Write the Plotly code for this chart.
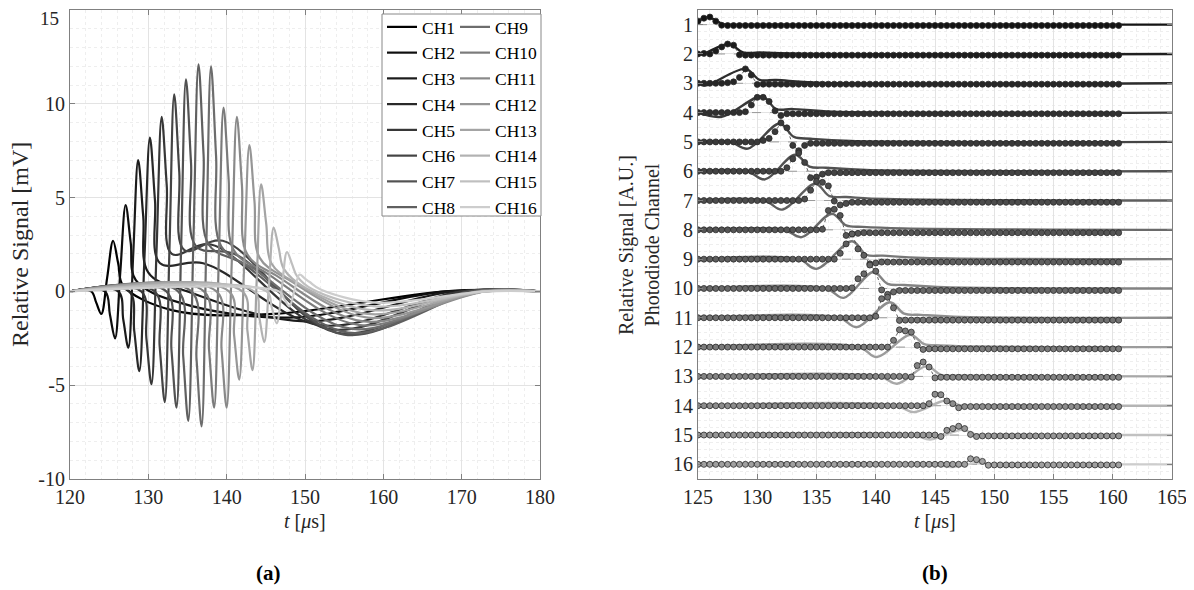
import plotly.graph_objects as go

# ---------------- data ----------------
CHANNELS = list(range(1, 17))
CH_NAMES = ["CH%d" % k for k in CHANNELS]

# Panel (a): key points of each channel's waveform [us, mV]
A_TROUGH_T = [124.0, 125.75, 127.45, 128.85, 130.4, 132.1, 133.6, 135.1, 136.8, 138.4, 140.0, 141.6, 143.3, 144.8, 146.4, 148.0]
A_TROUGH_V = [-1.2, -2.5, -3.0, -4.25, -4.95, -5.9, -6.2, -6.9, -7.2, -6.2, -6.2, -4.7, -4.2, -2.7, -1.7, -0.8]
A_PRE_V = [-0.6, -1.25, -1.5, -2.1, -2.5, -2.95, -3.1, -3.45, -3.6, -3.1, -3.1, -2.35, -2.1, -1.35, -0.85, -0.4]
A_MID_V = [0.75, 1.05, 2.0, 2.0, 2.2, 2.3, 2.55, 2.6, 2.4, 1.8, 1.55, 1.55, 0.75, 0.35, 0.2, 0.05]
A_PEAK_T = [125.5, 127.1, 128.7, 130.2, 131.7, 133.3, 134.8, 136.4, 138.0, 139.6, 141.3, 142.9, 144.4, 146.0, 147.7, 149.3]
A_PEAK_V = [2.7, 4.6, 7.0, 8.2, 9.3, 10.5, 11.3, 12.1, 12.0, 9.8, 9.3, 7.8, 5.7, 3.4, 2.1, 0.9]
A_DROP_V = [1.5, 2.6, 4.0, 4.85, 5.65, 6.35, 6.85, 7.3, 7.2, 6.0, 5.65, 4.8, 3.6, 2.3, 1.45, 0.7]
A_FALL_V = [0.3, 0.6, 1.0, 1.5, 2.0, 2.2, 2.4, 2.5, 2.4, 2.2, 2.0, 1.8, 1.5, 1.2, 0.8, 0.5]
A_SHOULDER_T = [133.0, 134.0, 135.0, 137.0, 138.0, 139.5, 141.0, 142.0, 143.5, 145.0, 146.5, 148.0, 149.0, 150.0, 151.0, 152.0]
A_SHOULDER_V = [-1.0, -0.6, 0.0, 1.5, 2.5, 2.7, 2.0, 1.5, 1.2, 1.0, 0.8, 0.6, 0.4, 0.2, 0.1, 0.1]
A_DIP_T = [146.0, 148.0, 150.0, 152.0, 153.0, 154.0, 155.0, 155.5, 156.0, 157.0, 157.5, 158.0, 158.0, 158.5, 159.0, 159.0]
A_DIP_V = [-1.2, -1.4, -1.6, -1.8, -2.0, -2.2, -2.3, -2.2, -2.0, -1.8, -1.6, -1.4, -1.2, -1.0, -0.8, -0.6]
A_END_T = [168, 168, 169, 170, 170, 171, 171, 172, 172, 172, 173, 173, 173, 173, 173, 173]

# Panel (b): relative signal per channel [A.U.] (upward positive)
B_DIP_T = [125.0, 125.3, 125.6, 127.0, 129.2, 130.65, 132.1, 133.75, 135.0, 137.3, 138.4, 140.1, 141.8, 143.2, 144.6, 146.3]
B_DIP_V = [0.12, -0.02, -0.08, -0.14, -0.23, -0.28, -0.31, -0.25, -0.33, -0.32, -0.32, -0.34, -0.25, -0.22, -0.15, -0.09]
B_PEAK_T = [125.9, 127.6, 129.0, 130.4, 131.9, 133.2, 134.9, 136.3, 138.0, 139.8, 141.2, 142.9, 144.3, 145.9, 147.3, 148.7]
B_PEAK_V = [0.25, 0.34, 0.49, 0.55, 0.63, 0.56, 0.57, 0.55, 0.61, 0.56, 0.53, 0.42, 0.35, 0.18, 0.18, 0.06]
B_FALL_V = [0.02, 0.05, 0.12, 0.12, 0.17, 0.16, 0.15, 0.15, 0.15, 0.16, 0.14, 0.10, 0.05, 0.02, 0.02, 0.0]
B_SHOULDER_V = [0.0, 0.05, 0.11, 0.12, 0.11, 0.12, 0.12, 0.10, 0.12, 0.12, 0.10, 0.06, 0.03, 0.02, 0.01, 0.0]
B_TAIL_V = [0.0, 0.01, 0.02, 0.03, 0.03, 0.04, 0.05, 0.05, 0.04, 0.04, 0.03, 0.02, 0.01, 0.0, 0.0, 0.0]

# Sampled points (dots): sample grid and the non-zero part of every channel
DOT_T = [125.0 + 0.5 * i for i in range(72)]
DOT_BUMP_START = [0, 0, 5, 8, 11, 15, 18, 21, 23, 26, 30, 32, 36, 39, 41, 45]
DOT_BUMP_V = [
    [0.12, 0.22, 0.26, 0.12, -0.02],
    [0.0, 0.02, 0.0, 0.1, 0.24, 0.34, 0.3, -0.03],
    [0.02, 0.05, 0.2, 0.49, 0.28, -0.04],
    [0.03, 0.26, 0.52, 0.52, 0.38, 0.06, -0.1],
    [0.05, 0.12, 0.35, 0.65, 0.48, -0.12, -0.3, -0.12],
    [0.12, 0.42, 0.62, 0.3, -0.22, -0.2, -0.1],
    [0.05, 0.35, 0.65, 0.62, 0.5, -0.02, -0.15, -0.1],
    [0.02, 0.66, 0.7, 0.49, -0.19, -0.14, -0.12],
    [0.0, 0.2, 0.52, 0.86, 0.35, 0.13, -0.16, -0.13],
    [0.02, 0.33, 0.5, 0.8, 0.59, -0.05, -0.2, -0.12],
    [0.05, 0.65, 0.7, 0.34, -0.09],
    [0.0, 0.23, 0.59, 0.55, 0.51, 0.06, -0.08],
    [-0.02, 0.37, 0.49, 0.32, -0.05],
    [0.07, 0.39, 0.375, 0.16, 0.07, -0.07],
    [-0.05, 0.16, 0.22, 0.3, 0.22, 0.02, -0.05],
    [0.0, 0.19, 0.16, 0.1, -0.03],
]
DOT_TRAIL = [-0.03, -0.04, -0.03, -0.04, -0.05, -0.05, -0.06, -0.1, -0.1, -0.07, -0.08, -0.06, -0.03, -0.03, -0.03, -0.02]

A_XTICKS = [120, 130, 140, 150, 160, 170, 180]
A_YTICKS = [-10, -5, 0, 5, 10, 15]
A_YTICKTEXT = ["-10", "-5", "0", "5", "10", "15"]
B_XTICKS = [125, 130, 135, 140, 145, 150, 155, 160, 165]

# ---------------- style ----------------
OFF = 8                      # page body margin
W, H = 1194 - OFF, 590 - OFF
SERIF = "Liberation Serif, DejaVu Serif, serif"
AXC = "#808080"


def px(x):
    return (x - OFF) / W


def py(y):
    return 1 - (y - OFF) / H


def gray(v):
    v = int(round(v))
    return "rgb(%d,%d,%d)" % (v, v, v)


fig = go.Figure()

# ---------------- panel (a) ----------------
for k in range(16):
    R, P = A_TROUGH_T[k], A_PEAK_T[k]
    xs = [120.0, R - 1.3, R - 0.65, R, (R + P) / 2, P, P + 0.65, P + 1.3,
          A_SHOULDER_T[k], A_DIP_T[k], A_END_T[k], 180.0]
    ys = [0.0, 0.0, A_PRE_V[k], A_TROUGH_V[k], A_MID_V[k], A_PEAK_V[k], A_DROP_V[k], A_FALL_V[k],
          A_SHOULDER_V[k], A_DIP_V[k], 0.0, 0.0]
    fig.add_trace(go.Scatter(
        x=xs, y=ys, mode="lines", name=CH_NAMES[k],
        line=dict(color=gray(k * 205 / 15), width=2.2, shape="spline", smoothing=1.0),
        xaxis="x", yaxis="y", legend="legend" if k < 8 else "legend2",
    ))

# ---------------- panel (b) ----------------
for k in range(16):
    fig.add_trace(go.Scatter(
        x=[B_XTICKS[0], B_XTICKS[-1]], y=[CHANNELS[k], CHANNELS[k]], mode="lines",
        line=dict(color="#9a9a9a", width=1, dash="dash"), showlegend=False,
        xaxis="x2", yaxis="y2", hoverinfo="skip",
    ))

for k in range(16):
    ch = CHANNELS[k]
    xs, ys = [], []
    if B_DIP_T[k] > 125.0:
        xs.append(125.0)
        ys.append(0.0)
        pre = B_DIP_T[k] - 1.5
        if pre > 125.5:
            xs.append(pre)
            ys.append(0.0)
    xs += [B_DIP_T[k], B_PEAK_T[k], B_PEAK_T[k] + 1.2, B_PEAK_T[k] + 2.6, B_PEAK_T[k] + 6.0, 165.0]
    ys += [B_DIP_V[k], B_PEAK_V[k], B_FALL_V[k], B_SHOULDER_V[k], B_TAIL_V[k], 0.0]
    fig.add_trace(go.Scatter(
        x=xs, y=[ch - v for v in ys], mode="lines",
        line=dict(color=gray(20 + k * 185 / 15), width=2.4, shape="spline", smoothing=1.0),
        showlegend=False, xaxis="x2", yaxis="y2",
    ))

for k in range(16):
    ch = CHANNELS[k]
    s = DOT_BUMP_START[k]
    bump = DOT_BUMP_V[k]
    vals = []
    for i in range(len(DOT_T)):
        if i < s:
            vals.append(0.0)
        elif i < s + len(bump):
            vals.append(bump[i - s])
        else:
            vals.append(DOT_TRAIL[k])
    fig.add_trace(go.Scatter(
        x=DOT_T, y=[ch - v for v in vals], mode="lines+markers",
        line=dict(color="#4a4a4a", width=0.9, dash="dot"),
        marker=dict(size=6, color=gray(20 + k * 140 / 15), line=dict(color="#2a2a2a", width=0.8)),
        showlegend=False, xaxis="x2", yaxis="y2",
    ))

# ---------------- layout ----------------
tickfont = dict(family=SERIF, size=20, color="#262626")
common = dict(showline=True, linecolor=AXC, linewidth=1, mirror="ticks", ticks="inside",
              ticklen=5, tickcolor=AXC, showgrid=True, gridcolor="#e3e3e3", gridwidth=1,
              zeroline=False, tickfont=tickfont, automargin=False)
minor_style = dict(showgrid=True, gridcolor="#eeeeee", griddash="dot", ticks="")

# the top label of panel (a) sits at the page edge: drawn as an annotation nudged inside
a_ticktext_axis = A_YTICKTEXT[:-1] + [""]

fig.update_layout(
    width=W, height=H, margin=dict(l=0, r=0, t=0, b=0),
    paper_bgcolor="white", plot_bgcolor="white",
    xaxis=dict(domain=[px(70), px(540)], range=[120, 180], tickvals=A_XTICKS, anchor="y",
               minor=dict(dtick=2, **minor_style), **common),
    yaxis=dict(domain=[py(479), py(10)], range=[-10, 15], tickvals=A_YTICKS, ticktext=a_ticktext_axis,
               anchor="x", minor=dict(dtick=1, **minor_style), **common),
    xaxis2=dict(domain=[px(698), px(1172)], range=[125, 165], tickvals=B_XTICKS, anchor="y2",
                minor=dict(dtick=1, **minor_style), **common),
    yaxis2=dict(domain=[py(479), py(10)], range=[16.5, 0.5], tickvals=CHANNELS, anchor="x2",
                minor=dict(dtick=0.25, **minor_style), **common),
    legend=dict(x=px(382), y=py(9), xanchor="left", yanchor="top", bgcolor="rgba(0,0,0,0)",
                borderwidth=0, font=dict(family=SERIF, size=17.5, color="#000"), itemwidth=30,
                tracegroupgap=0),
    legend2=dict(x=px(455), y=py(9), xanchor="left", yanchor="top", bgcolor="rgba(0,0,0,0)",
                 borderwidth=0, font=dict(family=SERIF, size=17.5, color="#000"), itemwidth=30,
                 tracegroupgap=0),
    showlegend=True,
)

fig.add_annotation(x=0, y=A_YTICKS[-1], xref="paper", yref="y", text=A_YTICKTEXT[-1],
                   showarrow=False, xanchor="right", yanchor="middle", borderpad=0,
                   xshift=px(60) * W, yshift=-9,
                   font=dict(family=SERIF, size=19, color="#262626"))

fig.add_shape(type="rect", xref="paper", yref="paper", x0=px(382), x1=px(541), y0=py(216), y1=py(14),
              line=dict(color="#888888", width=1), fillcolor="white", layer="above")

fig.add_annotation(x=px(20), y=py(245), xref="paper", yref="paper", text="Relative Signal [mV]",
                   textangle=-90, showarrow=False, xanchor="center", yanchor="middle",
                   font=dict(family=SERIF, size=24, color="#262626"))
fig.add_annotation(x=px(305), y=py(521), xref="paper", yref="paper", text="<i>t</i> [<i>μ</i>s]",
                   showarrow=False, xanchor="center", yanchor="middle",
                   font=dict(family=SERIF, size=20, color="#262626"))
fig.add_annotation(x=px(639), y=py(245), xref="paper", yref="paper",
                   text="Relative Signal [A.U.]<br>Photodiode Channel",
                   textangle=-90, showarrow=False, xanchor="center", yanchor="middle",
                   font=dict(family=SERIF, size=20, color="#262626"))
fig.add_annotation(x=px(935), y=py(521), xref="paper", yref="paper", text="<i>t</i> [<i>μ</i>s]",
                   showarrow=False, xanchor="center", yanchor="middle",
                   font=dict(family=SERIF, size=20, color="#262626"))
fig.add_annotation(x=px(268), y=py(573), xref="paper", yref="paper", text="<b>(a)</b>",
                   showarrow=False, xanchor="center", yanchor="middle",
                   font=dict(family=SERIF, size=21, color="#000"))
fig.add_annotation(x=px(935), y=py(573), xref="paper", yref="paper", text="<b>(b)</b>",
                   showarrow=False, xanchor="center", yanchor="middle",
                   font=dict(family=SERIF, size=21, color="#000"))

fig.write_html("out.html")
